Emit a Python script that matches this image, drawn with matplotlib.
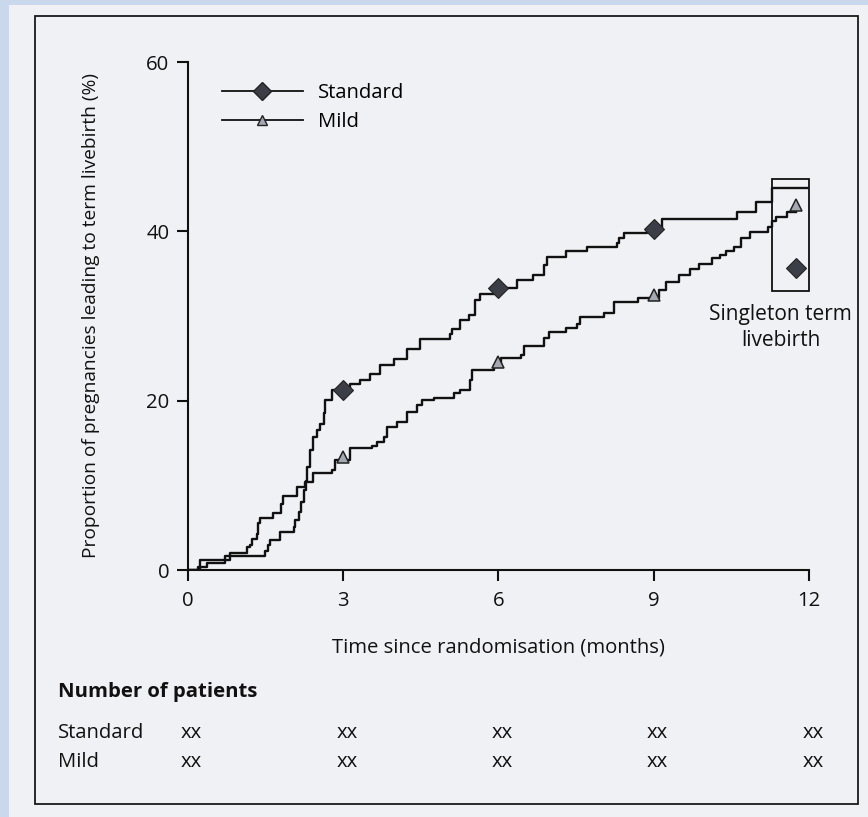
import numpy as np
import matplotlib
matplotlib.use("Agg")
import matplotlib.pyplot as plt
from matplotlib.lines import Line2D
from matplotlib.patches import Rectangle

plt.rcParams['font.family'] = ['Open Sans', 'DejaVu Sans']

# ---------------- data ----------------
std_t = [0, 0.20, 0.37, 0.72, 1.50, 1.56, 1.59, 1.79, 2.05, 2.08, 2.15, 2.20, 2.25, 2.28,
         2.30, 2.37, 2.43, 2.50, 2.56, 2.63, 2.66, 2.79, 3.14, 3.34, 3.53, 3.72, 3.98,
         4.23, 4.49, 5.07, 5.10, 5.27, 5.43, 5.56, 5.65, 5.91, 6.36, 6.68, 6.88, 6.94,
         7.30, 7.71, 8.29, 8.33, 8.42, 8.87, 9.16, 10.61, 10.97, 11.29, 12.0]
std_y = [0, 0.4, 0.8, 1.6, 2.2, 2.95, 3.6, 4.5, 5.1, 5.9, 6.8, 8.0, 9.5, 10.5,
         12.2, 14.2, 15.7, 16.5, 17.3, 18.5, 20.1, 21.3, 22.0, 22.4, 23.2, 24.2, 24.9,
         26.1, 27.3, 27.9, 28.5, 29.5, 30.1, 31.9, 32.6, 33.3, 34.2, 34.8, 36.0, 37.0,
         37.7, 38.2, 38.6, 39.2, 39.8, 40.3, 41.5, 42.3, 43.5, 45.1, 45.1]

mild_t = [0, 0.24, 0.82, 1.14, 1.21, 1.24, 1.34, 1.37, 1.40, 1.66, 1.80, 1.85, 2.11, 2.27,
          2.43, 2.79, 2.85, 3.14, 3.56, 3.66, 3.79, 3.85, 4.04, 4.23, 4.43, 4.52, 4.75,
          5.14, 5.27, 5.46, 5.49, 5.91, 6.05, 6.44, 6.50, 6.88, 6.98, 7.30, 7.52, 7.58,
          8.04, 8.23, 8.70, 9.10, 9.23, 9.49, 9.70, 9.87, 10.13, 10.29, 10.39, 10.55,
          10.68, 10.87, 11.20, 11.29, 11.37, 11.57, 11.75]
mild_y = [0, 1.18, 1.97, 2.75, 3.0, 3.7, 4.3, 5.5, 6.1, 6.7, 7.8, 8.7, 9.8, 10.4,
          11.4, 11.8, 13.0, 14.4, 14.6, 15.1, 15.7, 16.9, 17.5, 18.7, 19.5, 20.1, 20.3,
          20.9, 21.3, 22.4, 23.6, 24.2, 25.0, 25.4, 26.4, 27.4, 28.1, 28.6, 29.1, 29.9,
          30.4, 31.7, 32.1, 33.1, 34.0, 34.9, 35.5, 36.1, 36.9, 37.2, 37.7, 38.2,
          39.2, 39.9, 40.5, 41.2, 41.7, 42.3, 42.3]

marker_times = [3, 6, 9]
singleton_x = 11.75
singleton_std = 35.7
singleton_mild = 43.1
singleton_box = (11.29, 12.0, 33.0, 46.2)

x_ticks = [0, 3, 6, 9, 12]
y_ticks = [0, 20, 40, 60]
risk_groups = ["Standard", "Mild"]
risk_counts = [["xx"] * 5, ["xx"] * 5]

# ---------------- figure ----------------
W, H = 868, 817
FS = 14.6
fig = plt.figure(figsize=(W / 100, H / 100), dpi=100)
fig.patch.set_facecolor('#c9d8ec')

page = fig.add_axes([9 / W, 0, 1 - 9 / W, 1 - 5 / H])
page.set_axis_off()
page.add_patch(Rectangle((0, 0), 1, 1, transform=page.transAxes, facecolor='#eff1f5',
                         edgecolor='none'))
fig.add_artist(Rectangle((35 / W, 1 - 804 / H), (858 - 35) / W, (804 - 16) / H,
                         transform=fig.transFigure, facecolor='none', edgecolor='#1a1a1a',
                         linewidth=1.3))

ax = fig.add_axes([187.5 / W, 1 - 570 / H, (809 - 187.5) / W, (570 - 62) / H])
ax.set_facecolor('none')

lc = '#111111'
ax.plot(std_t, std_y, drawstyle='steps-post', color=lc, lw=1.7, zorder=3)
ax.plot(mild_t, mild_y, drawstyle='steps-post', color=lc, lw=1.7, zorder=3)

def step_val(ts, ys, t):
    i = np.searchsorted(ts, t, side='right') - 1
    return ys[i]

dmk = dict(ls='none', marker='D', ms=10, mfc='#3b3e47', mec='#222222', mew=0.8)
tmk = dict(ls='none', marker='^', ms=8, mfc='#a3a8b2', mec='#222222', mew=1.1)

std_m = [step_val(std_t, std_y, t) for t in marker_times]
mild_m = [step_val(mild_t, mild_y, t) + 0.4 for t in marker_times]
ax.plot(marker_times, std_m, zorder=4, **dmk)
ax.plot(marker_times, mild_m, zorder=4, **tmk)

# singleton box
ax.add_patch(Rectangle((singleton_box[0], singleton_box[2]), singleton_box[1] - singleton_box[0],
                       singleton_box[3] - singleton_box[2], facecolor='none', edgecolor=lc,
                       lw=1.3, clip_on=False, zorder=5))
ax.plot([singleton_x], [singleton_mild], zorder=6, clip_on=False, **tmk)
ax.plot([singleton_x], [singleton_std], zorder=6, clip_on=False, **dmk)
ax.text(11.45, 28.6, "Singleton term\nlivebirth", ha='center', va='center', fontsize=FS + 0.4,
        linespacing=1.3, color=lc)

ax.set_xlim(0, 12)
ax.set_ylim(0, 60)
ax.set_xticks(x_ticks)
ax.set_yticks(y_ticks)
for s in ['top', 'right']:
    ax.spines[s].set_visible(False)
for s in ['left', 'bottom']:
    ax.spines[s].set_linewidth(1.5)
    ax.spines[s].set_color(lc)
ax.tick_params(direction='out', length=8, width=1.5, labelsize=FS, colors=lc)
ax.tick_params(axis='x', pad=7)
ax.tick_params(axis='y', pad=5)
ax.set_xlabel("Time since randomisation (months)", fontsize=FS, labelpad=19, color=lc)
ax.set_ylabel("Proportion of pregnancies leading to term livebirth (%)", fontsize=13.8,
              labelpad=33, color=lc)

handles = [Line2D([], [], color=lc, lw=1.3, marker='D', ms=9.5, mfc='#3b3e47', mec='#222222'),
           Line2D([], [], color=lc, lw=1.3, marker='^', ms=7.5, mfc='#a3a8b2', mec='#222222')]
ax.legend(handles, ["Standard", "Mild"], loc='upper left', bbox_to_anchor=(0.055, 0.958),
          frameon=False, fontsize=FS, handlelength=4.0, handletextpad=0.75,
          labelspacing=0.45, borderpad=0, borderaxespad=0, numpoints=1)

# number at risk table
fig.text(58 / W, 1 - 692 / H, "Number of patients", fontsize=FS, fontweight='bold',
         va='center', ha='left', color=lc)
row_y = [733, 762]
for g, yy, counts in zip(risk_groups, row_y, risk_counts):
    fig.text(58 / W, 1 - yy / H, g, fontsize=FS, va='center', ha='left', color=lc)
    for xt, c in zip(x_ticks, counts):
        xf = (187.5 + 51.8 * xt + 4) / W
        fig.text(xf, 1 - yy / H, c, fontsize=FS, va='center', ha='center', color=lc)

fig.savefig("out.png", dpi=100, facecolor=fig.get_facecolor())
